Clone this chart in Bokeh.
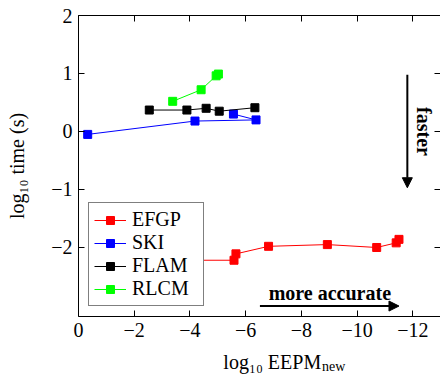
from bokeh.plotting import figure
from bokeh.layouts import column
from bokeh.models import (Range1d, LinearAxis, FixedTicker, Label, Arrow, NormalHead,
                          Legend, LegendItem)
from bokeh.embed import file_html
from bokeh.resources import INLINE
import math

# ---- data ----
efgp_x = [-2.5, -5.58, -5.65, -6.82, -8.93, -10.70, -11.40, -11.50]
efgp_y = [-2.22, -2.22, -2.11, -1.98, -1.95, -2.00, -1.92, -1.86]

ski_x = [-0.33, -4.18, -6.37, -5.56]
ski_y = [-0.05, 0.18, 0.20, 0.30]

flam_x = [-2.54, -3.89, -4.58, -5.05, -6.33]
flam_y = [0.37, 0.37, 0.40, 0.35, 0.41]

rlcm_x = [-3.38, -4.40, -4.94, -5.02]
rlcm_y = [0.52, 0.72, 0.96, 0.99]

series_names = ["EFGP", "SKI", "FLAM", "RLCM"]
series_colors = ["#ff0000", "#0000ff", "#000000", "#00ff00"]

x_ticks = [0, -2, -4, -6, -8, -10, -12]
y_ticks = [-2, -1, 0, 1, 2]

FONT = "Liberation Serif"

p = figure(width=440, height=350, output_backend="svg", toolbar_location=None,
           x_range=Range1d(0, -12.99), y_range=Range1d(-3.19, 2),
           min_border_left=78, min_border_right=0, min_border_top=15, min_border_bottom=34)
p.xgrid.visible = False
p.ygrid.visible = False
p.outline_line_color = None
p.background_fill_color = "white"
p.border_fill_color = "white"

def minus(v):
    return ("\u2212" + str(abs(v))) if v < 0 else str(v)

for ax, ticks in ((p.xaxis[0], x_ticks), (p.yaxis[0], y_ticks)):
    ax.ticker = FixedTicker(ticks=ticks)
    ax.major_label_overrides = {t: minus(t) for t in ticks}
    ax.major_tick_in = 6
    ax.major_tick_out = 0
    ax.minor_tick_line_color = None
    ax.axis_line_color = "black"
    ax.major_tick_line_color = "black"
    ax.major_label_text_font = FONT
    ax.major_label_text_font_size = "20px"
    ax.major_label_text_color = "black"
    ax.axis_label_text_font = FONT
    ax.axis_label_text_font_size = "20px"
    ax.axis_label_text_font_style = "normal"
    ax.axis_label_text_color = "black"

p.xaxis[0].major_label_standoff = 6
p.yaxis[0].major_label_standoff = 6
p.yaxis[0].axis_label = "log\u2081\u2080 time (s)"
p.yaxis[0].axis_label_standoff = 20

for loc, ticks, line_col in (("above", x_ticks, "black"), ("right", y_ticks, None)):
    ax = LinearAxis(ticker=FixedTicker(ticks=ticks), major_tick_in=6, major_tick_out=0,
                    minor_tick_line_color=None, major_label_text_font_size="0px",
                    major_label_text_color=None,
                    major_label_standoff=0, axis_line_color=line_col,
                    major_tick_line_color="black")
    p.add_layout(ax, loc)

# series
items = []
for xs, ys, name, col in zip([efgp_x, ski_x, flam_x, rlcm_x], [efgp_y, ski_y, flam_y, rlcm_y],
                             series_names, series_colors):
    r1 = p.line(xs, ys, line_color=col, line_width=1)
    r2 = p.scatter(xs, ys, marker="square", size=8, fill_color=col, line_color=col)
    items.append(LegendItem(label=name, renderers=[r1, r2]))

legend = Legend(items=items, location="bottom_left", margin=10,
                label_text_font=FONT, label_text_font_size="20px", label_text_color="black",
                glyph_width=32, glyph_height=20, label_height=20, label_width=66,
                label_standoff=6, padding=5, spacing=0,
                border_line_color="black", border_line_width=1,
                background_fill_color="white", background_fill_alpha=1.0)
p.add_layout(legend)

# annotations
p.add_layout(Arrow(end=NormalHead(size=10, fill_color="black", line_color="black"),
                   x_start=-11.80, y_start=0.98, x_end=-11.80, y_end=-0.97,
                   line_color="black", line_width=2))
p.add_layout(Arrow(end=NormalHead(size=10, fill_color="black", line_color="black"),
                   x_start=-6.51, y_start=-3.01, x_end=-11.50, y_end=-3.01,
                   line_color="black", line_width=2))
p.add_layout(Label(x=-12.38, y=0.0, text="faster", angle=-math.pi / 2,
                   text_align="center", text_baseline="middle", text_font=FONT,
                   text_font_size="20px", text_font_style="bold", text_color="black"))
p.add_layout(Label(x=-9.02, y=-2.79, text="more accurate", text_align="center",
                   text_baseline="alphabetic", text_font=FONT,
                   text_font_size="20px", text_font_style="bold", text_color="black"))

# x-axis title with subscript, in a strip below the plot
q = figure(width=440, height=24, output_backend="svg", toolbar_location=None,
           x_range=Range1d(0, 440), y_range=Range1d(0, 24),
           x_axis_type=None, y_axis_type=None, min_border=0)
q.xgrid.visible = False
q.ygrid.visible = False
q.outline_line_color = None
q.add_layout(Label(x=295, y=13, text="log\u2081\u2080 EEPM", text_align="right",
                   text_baseline="alphabetic", text_font=FONT, text_font_size="20px",
                   text_color="black"))
q.add_layout(Label(x=296, y=8, text="new", text_align="left",
                   text_baseline="alphabetic", text_font=FONT, text_font_size="14px",
                   text_color="black"))

layout = column(p, q, spacing=0)
open("out.html", "w").write(file_html(layout, INLINE))
